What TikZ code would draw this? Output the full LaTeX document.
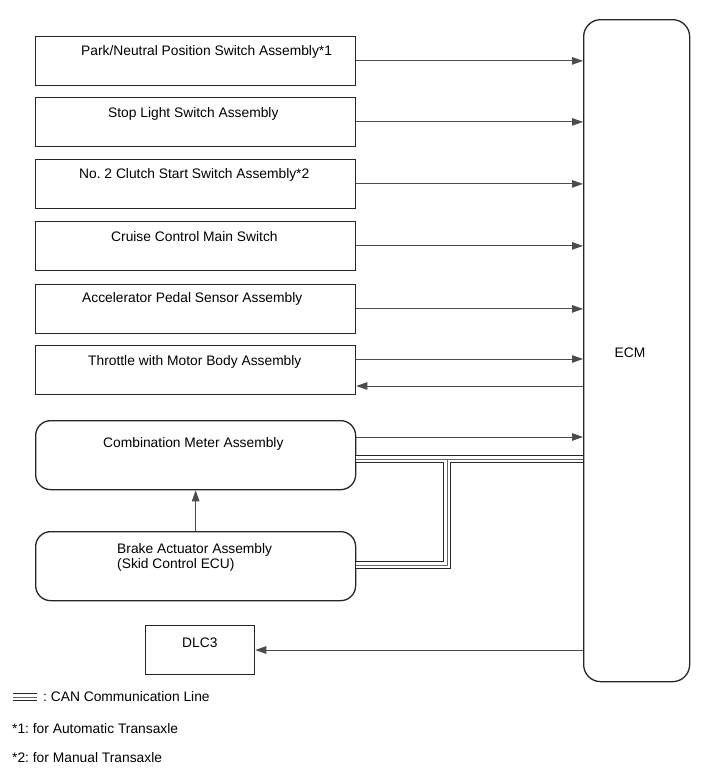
\documentclass[tikz,border=0pt]{standalone}
\usepackage{fontspec}
\setmainfont{Liberation Sans}
\usetikzlibrary{arrows.meta}
\frenchspacing
\begin{document}
\begin{tikzpicture}[x=1pt,y=-1pt,
  box/.style={draw=black!85,line width=1.3pt,minimum width=320pt,minimum height=48.5pt,anchor=north west,inner sep=0pt},
  rbox/.style={box,rounded corners=15pt,minimum height=69pt},
  lbl/.style={anchor=base west,inner sep=0pt,font=\fontsize{13.8}{15.5}\selectfont},
  conn/.style={draw=black!70,line width=1pt,-{Triangle[length=11pt,width=7.5pt]}},
  canouter/.style={draw=black!85,line width=7.4pt},
  caninner/.style={draw=white,line width=5.2pt},
  canmid/.style={draw=black!60,line width=0.9pt}]

\fill[white] (0,0) rectangle (713,782);
\useasboundingbox (0,0) rectangle (713,782);

% boxes
\node[box] (b1) at (35,36) {};
\node[box] (b2) at (35,97) {};
\node[box] (b3) at (35,159) {};
\node[box] (b4) at (35,221) {};
\node[box] (b5) at (35,284) {};
\node[box] (b6) at (35,345) {};
\node[rbox] (cm) at (35,420) {};
\node[rbox] (ba) at (35,531) {};
\node[box,minimum width=109pt,minimum height=49pt] (dlc) at (145,625) {};
\node[draw=black!85,line width=1.3pt,rounded corners=17pt,minimum width=106pt,minimum height=662pt,anchor=north west] (ecm) at (583,19) {};

% texts
\node[lbl] (t1) at (81,55) {Park/Neutral Position Switch Assembly*1};
\node[lbl] (t2) at (108,117) {Stop Light Switch Assembly};
\node[lbl] (t3) at (79,178) {No. 2 Clutch Start Switch Assembly*2};
\node[lbl] (t4) at (111,241) {Cruise Control Main Switch};
\node[lbl] (t5) at (82,302) {Accelerator Pedal Sensor Assembly};
\node[lbl] (t6) at (88,365) {Throttle with Motor Body Assembly};
\node[lbl] (t7) at (103,447) {Combination Meter Assembly};
\node[lbl] (t8) at (117,553) {Brake Actuator Assembly};
\node[lbl] (t9) at (117,568) {(Skid Control ECU)};
\node[lbl,anchor=base] (tecm) at (630,357) {ECM};
\node[lbl] (tdlc) at (182,647) {DLC3};

% connectors
\draw[conn] (b1.east) -- (b1.east -| ecm.west);
\draw[conn] (b2.east) -- (b2.east -| ecm.west);
\draw[conn] (b3.east) -- (b3.east -| ecm.west);
\draw[conn] (b4.east) -- (b4.east -| ecm.west);
\draw[conn] (b5.east) -- (b5.east -| ecm.west);
\coordinate (p6a) at (0,359);
\coordinate (p6b) at (0,386);
\draw[conn] (b6.east |- p6a) -- (ecm.west |- p6a);
\draw[conn] (ecm.west |- p6b) -- (b6.east |- p6b);
\coordinate (pcm) at (0,437);
\draw[conn] (cm.east |- pcm) -- (ecm.west |- pcm);
\draw[conn] (ba.north) -- (cm.south);
\coordinate (pd) at (0,650);
\draw[conn] (ecm.west |- pd) -- (dlc.east |- pd);

% CAN lines
\coordinate (c1) at (0,459);
\coordinate (j) at (447,459);
\coordinate (k) at (447,565);
\foreach \s in {canouter,caninner,canmid}{
  \draw[\s] (cm.east |- c1) -- (ecm.west |- c1);
  \draw[\s] (j) -- (k) -- (ba.east |- k);
}

% legend
\coordinate (l1) at (13,697);
\coordinate (l2) at (37,697);
\foreach \s in {canouter,caninner,canmid}{
  \draw[\s] (l1) -- (l2);
}
\node[lbl] (lg1) at (43,701) {: CAN Communication Line};
\node[lbl] (lg2) at (12,733) {*1: for Automatic Transaxle};
\node[lbl] (lg3) at (12,762) {*2: for Manual Transaxle};
\end{tikzpicture}
\end{document}
